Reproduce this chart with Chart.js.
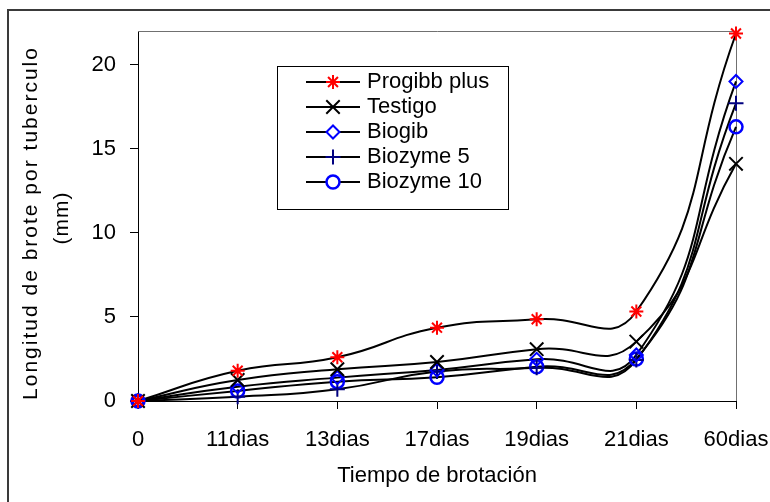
<!DOCTYPE html>
<html>
<head>
<meta charset="utf-8">
<script src="https://cdn.jsdelivr.net/npm/chart.js@4.4.1/dist/chart.umd.min.js"></script>
<style>
  html, body { margin: 0; padding: 0; background: #fff; overflow: hidden; }
  #wrap { position: relative; width: 770px; height: 502px; }
  #marco { position: absolute; left: 7px; top: 9px; width: 820px; height: 540px; border: 2px solid #3a3a3a; box-sizing: border-box; }
  canvas { position: absolute; left: 0; top: 0; }
</style>
</head>
<body>
<div id="wrap">
  <div id="marco"></div>
  <canvas id="grafico" width="770" height="502"></canvas>
</div>
<script>
// datos
const categorias = ['0', '11dias', '13dias', '17dias', '19dias', '21dias', '60dias'];
const progibbPlus = [0, 1.8, 2.6, 4.36, 4.86, 5.32, 21.85];
const testigo = [0, 1.25, 1.89, 2.32, 3.08, 3.53, 14.1];
const biogib = [0, 0.85, 1.39, 1.85, 2.48, 2.74, 19.0];
const biozyme5 = [0, 0.25, 0.7, 1.75, 1.97, 2.44, 17.7];
const biozyme10 = [0, 0.6, 1.15, 1.41, 2.04, 2.5, 16.3];
const yTicks = [0, 5, 10, 15, 20];

const fuente = 'Arial, "Liberation Sans", sans-serif';

const series = [
    { nombre: 'Progibb plus', valores: progibbPlus, estilo: 'star', color: '#ff0000', radio: 7, grosor: 2 },
    { nombre: 'Testigo', valores: testigo, estilo: 'crossRot', color: '#000000', radio: 9.5, grosor: 2 },
    { nombre: 'Biogib', valores: biogib, estilo: 'rectRot', color: '#0000ff', radio: 6.5, grosor: 2 },
    { nombre: 'Biozyme 5', valores: biozyme5, estilo: 'cross', color: '#000080', radio: 7.5, grosor: 2 },
    { nombre: 'Biozyme 10', valores: biozyme10, estilo: 'circle', color: '#0000ff', radio: 6.5, grosor: 2.5 }
];

// primero los marcadores (se dibujan encima), luego las lineas suavizadas
const datasets = [];
series.forEach(s => {
    datasets.push({
        label: s.nombre,
        data: s.valores,
        esMarcador: true,
        showLine: false,
        pointStyle: s.estilo,
        pointRadius: s.radio,
        pointBorderWidth: s.grosor,
        pointBorderColor: s.color,
        pointBackgroundColor: 'rgba(0,0,0,0)',
        clip: false
    });
});
series.forEach(s => {
    datasets.push({
        label: s.nombre + ' linea',
        data: s.valores,
        borderColor: '#000000',
        borderWidth: 2,
        tension: 0.5,
        pointRadius: 0,
        fill: false
    });
});

// borde superior y derecho del area de trazado
const bordeArea = {
    id: 'bordeArea',
    beforeDatasetsDraw(chart) {
        const { ctx, chartArea: a } = chart;
        ctx.save();
        ctx.strokeStyle = '#707070';
        ctx.lineWidth = 1;
        ctx.beginPath();
        ctx.moveTo(a.left, a.top + 0.5);
        ctx.lineTo(a.right + 0.5, a.top + 0.5);
        ctx.lineTo(a.right + 0.5, a.bottom);
        ctx.stroke();
        ctx.restore();
    }
};

// titulo del eje Y en dos lineas
const tituloY = {
    id: 'tituloY',
    afterDraw(chart) {
        const ctx = chart.ctx;
        const lineas = [
            { texto: 'Longitud de brote por tuberculo', x: 31, y: 223, esp: '2px' },
            { texto: '(mm)', x: 62, y: 218, esp: '1px' }
        ];
        lineas.forEach(l => {
            ctx.save();
            ctx.fillStyle = '#000';
            ctx.textAlign = 'center';
            ctx.textBaseline = 'middle';
            ctx.font = '21px ' + fuente;
            ctx.translate(l.x, l.y);
            ctx.rotate(-Math.PI / 2);
            if ('letterSpacing' in ctx) ctx.letterSpacing = l.esp;
            ctx.fillText(l.texto, 0, 0);
            ctx.restore();
        });
    }
};

// leyenda con recuadro dentro del area de trazado
const leyenda = {
    id: 'leyenda',
    afterDraw(chart) {
        const ctx = chart.ctx;
        const caja = { x: 277, y: 66, w: 231, h: 143 };
        ctx.save();
        ctx.fillStyle = '#fff';
        ctx.fillRect(caja.x, caja.y, caja.w, caja.h);
        ctx.strokeStyle = '#000';
        ctx.lineWidth = 1;
        ctx.strokeRect(caja.x + 0.5, caja.y + 0.5, caja.w, caja.h);
        const marcadores = chart.data.datasets.filter(d => d.esMarcador);
        marcadores.forEach((d, i) => {
            const y = 82 + i * 25;
            ctx.strokeStyle = '#000';
            ctx.lineWidth = 2;
            ctx.beginPath();
            ctx.moveTo(306, y);
            ctx.lineTo(360, y);
            ctx.stroke();
            ctx.strokeStyle = d.pointBorderColor;
            ctx.fillStyle = '#fff';
            ctx.lineWidth = d.pointBorderWidth;
            Chart.helpers.drawPoint(ctx, {
                pointStyle: d.pointStyle,
                radius: d.pointRadius,
                rotation: 0,
                borderWidth: d.pointBorderWidth
            }, 333, y);
            ctx.fillStyle = '#000';
            ctx.font = '22px ' + fuente;
            ctx.textAlign = 'left';
            ctx.textBaseline = 'middle';
            ctx.fillText(d.label, 367, y);
        });
        ctx.restore();
    }
};

new Chart(document.getElementById('grafico'), {
    type: 'line',
    data: { labels: categorias, datasets: datasets },
    options: {
        responsive: false,
        animation: false,
        layout: { padding: { top: 31, right: 34, left: 0, bottom: 0 } },
        plugins: {
            legend: { display: false },
            tooltip: { enabled: false }
        },
        scales: {
            x: {
                offset: false,
                afterFit: scale => {
                    scale.height = 101;
                    scale.paddingLeft = 0;
                    scale.paddingRight = 0;
                },
                grid: { drawOnChartArea: false, drawTicks: true, tickLength: 8, color: '#000' },
                border: { color: '#000', width: 1 },
                ticks: {
                    color: '#000',
                    font: { family: fuente, size: 22 },
                    padding: 18,
                    autoSkip: false,
                    maxRotation: 0
                },
                title: {
                    display: true,
                    text: 'Tiempo de brotación',
                    color: '#000',
                    font: { family: fuente, size: 22 },
                    padding: { top: 0, bottom: 13 }
                }
            },
            y: {
                min: 0,
                max: 22,
                afterFit: scale => {
                    scale.width = 138;
                    scale.paddingTop = 0;
                    scale.paddingBottom = 0;
                },
                afterBuildTicks: scale => { scale.ticks = yTicks.map(v => ({ value: v })); },
                grid: { drawOnChartArea: false, drawTicks: true, tickLength: 8, color: '#000' },
                border: { color: '#000', width: 1 },
                ticks: {
                    color: '#000',
                    font: { family: fuente, size: 22 },
                    padding: 14
                }
            }
        }
    },
    plugins: [bordeArea, tituloY, leyenda]
});
</script>
</body>
</html>
